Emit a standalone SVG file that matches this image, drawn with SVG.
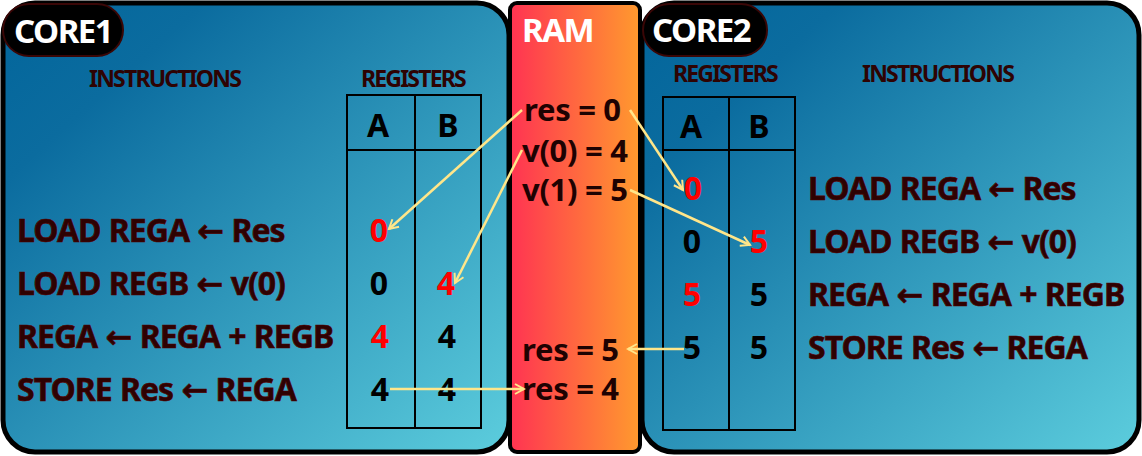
<svg xmlns="http://www.w3.org/2000/svg" width="1142" height="456" viewBox="0 0 1142 456">
<defs>
<linearGradient id="gCore" x1="0" y1="0" x2="1" y2="1">
<stop offset="0" stop-color="#02659b"/>
<stop offset="0.2" stop-color="#0b6c9f"/>
<stop offset="1" stop-color="#5ccddd"/>
</linearGradient>
<linearGradient id="gRam" x1="0" y1="0" x2="1" y2="0">
<stop offset="0" stop-color="#ff3352"/>
<stop offset="1" stop-color="#ff9a2e"/>
</linearGradient>
<marker id="ah" viewBox="0 0 12 12" refX="10" refY="6" markerWidth="12" markerHeight="12" markerUnits="userSpaceOnUse" orient="auto">
<path d="M1,1 L10,6 L1,11" fill="none" stroke="#ffe68a" stroke-width="2"/>
</marker>
</defs>
<style>
.panel{fill:url(#gCore);stroke:#000;stroke-width:5}
.ram{fill:url(#gRam);stroke:#000;stroke-width:4}
.pill{fill:#000;stroke:#3a0606;stroke-width:2}
.ttl{font-family:"Noto Sans",sans-serif;font-weight:bold;font-size:33px;fill:#fff;letter-spacing:-1.5px}
.hdr{font-family:"Noto Sans",sans-serif;font-weight:bold;font-size:23px;fill:#2e0303;letter-spacing:-1.8px}
.ins{font-family:"Noto Sans",sans-serif;font-weight:bold;font-size:32px;fill:#2d0202;stroke:#5a0000;stroke-width:0.6;letter-spacing:-1px;word-spacing:1px}
.arr{font-family:"DejaVu Sans",sans-serif}
.num{font-family:"Noto Sans",sans-serif;font-weight:bold;font-size:32px;fill:#000;text-anchor:middle}
.red{fill:#ff0000}
.mem{font-family:"Noto Sans",sans-serif;font-weight:bold;font-size:31px;fill:#1e0202;letter-spacing:-0.3px}
.grid{fill:none;stroke:#000;stroke-width:2}
.conn{fill:none;stroke:#ffe68a;stroke-width:2.5;marker-end:url(#ah)}
</style>
<g id="core1">
<rect class="panel" x="3" y="3" width="506" height="449" rx="32"/>
<rect class="pill" x="3" y="4" width="120" height="52" rx="26"/>
<text class="ttl" x="14" y="43">CORE1</text>
<text class="hdr" x="89" y="87">INSTRUCTIONS</text>
<text class="hdr" x="361" y="87">REGISTERS</text>
<g class="grid">
<rect x="347" y="95" width="134" height="333"/>
<line x1="415" y1="95" x2="415" y2="428"/>
<line x1="347" y1="150" x2="481" y2="150"/>
</g>
<text class="num" x="378" y="137">A</text>
<text class="num" x="448" y="137">B</text>
<text class="ins" x="17" y="242">LOAD REGA <tspan class="arr">←</tspan> Res</text>
<text class="ins" x="17" y="295">LOAD REGB <tspan class="arr">←</tspan> v(0)</text>
<text class="ins" x="17" y="348">REGA <tspan class="arr">←</tspan> REGA + REGB</text>
<text class="ins" x="17" y="401">STORE Res <tspan class="arr">←</tspan> REGA</text>
<text class="num red" x="379" y="242">0</text>
<text class="num" x="379" y="295">0</text>
<text class="num red" x="446" y="295">4</text>
<text class="num red" x="380" y="348">4</text>
<text class="num" x="447" y="348">4</text>
<text class="num" x="380" y="401">4</text>
<text class="num" x="447" y="401">4</text>
</g>
<g id="ram">
<rect class="ram" x="510" y="3" width="130" height="449" rx="7"/>
<text class="ttl" x="522" y="42">RAM</text>
<text class="mem" x="524" y="121">res = 0</text>
<text class="mem" x="522" y="162">v(0) = 4</text>
<text class="mem" x="522" y="201">v(1) = 5</text>
<text class="mem" x="522" y="361">res = 5</text>
<text class="mem" x="522" y="400">res = 4</text>
</g>
<g id="core2">
<rect class="panel" x="642" y="3" width="497" height="449" rx="32"/>
<rect class="pill" x="643" y="4" width="124" height="52" rx="26"/>
<text class="ttl" x="652" y="42">CORE2</text>
<text class="hdr" x="673" y="82">REGISTERS</text>
<text class="hdr" x="862" y="82">INSTRUCTIONS</text>
<g class="grid">
<rect x="663" y="97" width="132" height="333"/>
<line x1="729" y1="97" x2="729" y2="430"/>
<line x1="663" y1="150" x2="795" y2="150"/>
</g>
<text class="num" x="691" y="138">A</text>
<text class="num" x="759" y="138">B</text>
<text class="ins" x="808" y="200">LOAD REGA <tspan class="arr">←</tspan> Res</text>
<text class="ins" x="808" y="253">LOAD REGB <tspan class="arr">←</tspan> v(0)</text>
<text class="ins" x="808" y="306">REGA <tspan class="arr">←</tspan> REGA + REGB</text>
<text class="ins" x="808" y="359">STORE Res <tspan class="arr">←</tspan> REGA</text>
<text class="num red" x="693" y="200">0</text>
<text class="num" x="692" y="253">0</text>
<text class="num red" x="759" y="253">5</text>
<text class="num red" x="692" y="306">5</text>
<text class="num" x="759" y="306">5</text>
<text class="num" x="692" y="359">5</text>
<text class="num" x="759" y="359">5</text>
</g>
<g id="connectors">
<line class="conn" x1="522" y1="110" x2="389" y2="229"/>
<line class="conn" x1="522" y1="150" x2="455" y2="283"/>
<line class="conn" x1="390" y1="389" x2="524" y2="389"/>
<line class="conn" x1="630" y1="110" x2="683" y2="190"/>
<line class="conn" x1="630" y1="190" x2="750" y2="245"/>
<line class="conn" x1="684" y1="349" x2="628" y2="349"/>
</g>
</svg>
